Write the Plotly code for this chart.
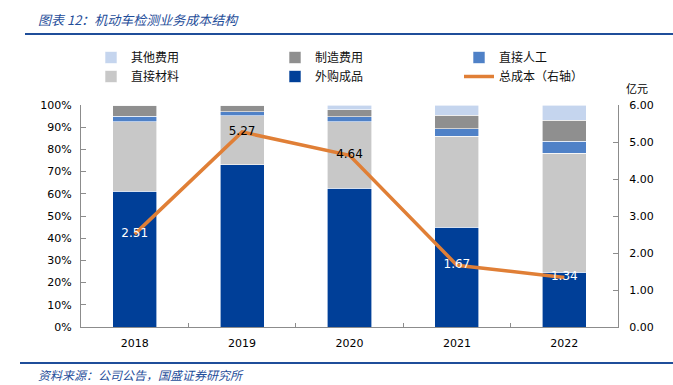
import plotly.graph_objects as go

years = ["2018", "2019", "2020", "2021", "2022"]
# cost structure shares (%)
waigou = [61.1, 73.1, 62.6, 45.0, 24.6]      # 外购成品
cailiao = [31.4, 22.1, 29.9, 40.9, 53.6]     # 直接材料
rengong = [2.5, 1.8, 2.1, 3.3, 5.4]          # 直接人工
zhizao = [5.0, 3.0, 3.3, 6.2, 9.6]           # 制造费用
qita = [0.0, 0.0, 2.1, 4.6, 6.8]             # 其他费用
total_cost = [2.51, 5.27, 4.64, 1.67, 1.34]  # 总成本（亿元）
label_colors = ["white", "black", "black", "white", "white"]

left_ticks = [0, 10, 20, 30, 40, 50, 60, 70, 80, 90, 100]
left_labels = [f"{v}%" for v in left_ticks]
right_ticks = [0, 1, 2, 3, 4, 5, 6]
right_labels = [f"{v:.2f}" for v in right_ticks]

cjk = "Noto Sans CJK SC"
num = "DejaVu Sans"

L, R, T, B = 81, 55, 105, 58
W, H = 673, 385
PW, PH = W - L - R, H - T - B


def px_x(x):
    return (x - L) / PW


def px_y(y):
    return (H - B - y) / PH


fig = go.Figure()
series = [
    ("外购成品", waigou, "#003F98", "legend2", 2),
    ("直接材料", cailiao, "#C8C8C8", "legend", 2),
    ("直接人工", rengong, "#4F81C7", "legend3", 1),
    ("制造费用", zhizao, "#8F8F8F", "legend2", 1),
    ("其他费用", qita, "#C5D5EE", "legend", 1),
]
for name, vals, color, leg, rank in series:
    fig.add_trace(go.Bar(
        x=years, y=vals, name=name, marker_color=color,
        marker_line_color="white", marker_line_width=0.6,
        legend=leg, legendrank=rank, width=0.41,
    ))

fig.add_trace(go.Scatter(
    x=years, y=total_cost, name="总成本（右轴）", yaxis="y2",
    mode="lines+text", line=dict(color="#E07F36", width=3.5),
    text=[f"{v:.2f}" for v in total_cost], textposition="middle center",
    textfont=dict(family=num, size=12, color=label_colors),
    legend="legend3", legendrank=2,
))

legend_common = dict(
    orientation="v", xanchor="left", y=px_y(43), yanchor="top",
    traceorder="normal", itemwidth=30,
    font=dict(family=cjk, size=12, color="#111111"),
    bgcolor="rgba(0,0,0,0)", tracegroupgap=0,
)

fig.update_layout(
    width=W, height=H,
    margin=dict(l=L, r=R, t=T, b=B, autoexpand=False),
    paper_bgcolor="white", plot_bgcolor="white",
    barmode="stack",
    showlegend=True,
    legend=dict(x=px_x(91), **legend_common),
    legend2=dict(x=px_x(275), **legend_common),
    legend3=dict(x=px_x(459), **legend_common),
    xaxis=dict(
        type="category", showline=True, linecolor="#8C8C8C", linewidth=1,
        ticks="inside", ticklen=4, tickcolor="#8C8C8C", tickson="boundaries",
        tickfont=dict(family=num, size=11, color="#000000"),
        showgrid=False, zeroline=False, ticklabelstandoff=6,
    ),
    yaxis=dict(
        range=[0, 100], tickvals=left_ticks, ticktext=left_labels,
        showline=True, linecolor="#8C8C8C", linewidth=1,
        ticks="inside", ticklen=5, tickcolor="#8C8C8C",
        tickfont=dict(family=num, size=11, color="#000000"),
        showgrid=False, zeroline=False, ticklabelstandoff=6,
    ),
    yaxis2=dict(
        range=[0, 6], tickvals=right_ticks, ticktext=right_labels,
        overlaying="y", side="right",
        showline=True, linecolor="#8C8C8C", linewidth=1,
        ticks="inside", ticklen=5, tickcolor="#8C8C8C",
        tickfont=dict(family=num, size=11, color="#000000"),
        showgrid=False, zeroline=False, ticklabelstandoff=8,
    ),
    shapes=[
        dict(type="line", xref="paper", yref="paper",
             x0=px_x(25), x1=px_x(673), y0=px_y(34), y1=px_y(34),
             line=dict(color="#1F4E9A", width=2)),
        dict(type="line", xref="paper", yref="paper",
             x0=px_x(20), x1=px_x(673), y0=px_y(363), y1=px_y(363),
             line=dict(color="#1F4E9A", width=2)),
    ],
    annotations=[
        dict(text="<i>图表 12：机动车检测业务成本结构</i>", xref="paper", yref="paper",
             x=px_x(36), y=px_y(20), xanchor="left", yanchor="middle",
             showarrow=False, font=dict(family=cjk, size=13, color="#1F4E9A")),
        dict(text="<i>资料来源：公司公告，国盛证券研究所</i>", xref="paper", yref="paper",
             x=px_x(36), y=px_y(374), xanchor="left", yanchor="middle",
             showarrow=False, font=dict(family=cjk, size=12, color="#1F4E9A")),
        dict(text="亿元", xref="paper", yref="paper",
             x=px_x(637), y=px_y(88), xanchor="center", yanchor="middle",
             showarrow=False, font=dict(family=cjk, size=11, color="#000000")),
    ],
)

fig.write_html("out.html", config={"displayModeBar": False},
               post_script="document.body.style.margin='0px';")
